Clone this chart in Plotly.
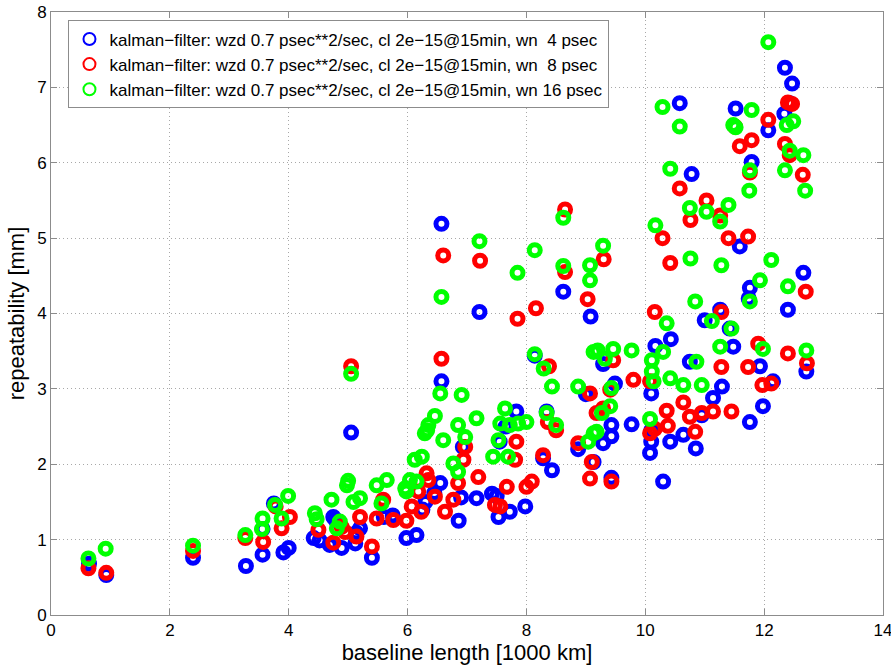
import plotly.graph_objects as go

blue_x = [0.64,0.93,2.39,3.28,3.56,3.56,3.75,3.91,4.0,4.42,4.52,4.69,4.75,4.79,4.89,5.05,5.12,5.14,5.2,5.4,5.6,5.75,5.98,6.15,6.25,6.3,6.45,6.57,6.57,6.55,6.86,6.9,6.93,7.16,7.21,7.42,7.5,7.53,7.55,7.65,7.72,7.83,7.98,8.14,8.28,8.34,8.43,8.62,8.87,9.0,9.08,9.13,9.29,9.29,9.43,9.43,9.43,9.49,9.77,10.08,10.1,10.1,10.1,10.17,10.3,10.42,10.43,10.58,10.64,10.75,10.78,10.85,10.95,11.0,11.14,11.26,11.29,11.42,11.48,11.52,11.59,11.74,11.76,11.76,11.79,11.93,11.98,12.07,12.15,12.34,12.35,12.4,12.43,12.47,12.66,12.71]
blue_y = [0.68,0.53,0.76,0.65,0.80,1.14,1.48,0.83,0.89,1.02,0.99,0.93,1.30,1.26,0.89,2.42,0.95,1.09,1.15,0.76,1.30,1.32,1.02,1.06,1.40,1.50,1.62,3.10,5.19,1.75,1.25,1.56,2.23,1.55,4.02,1.61,1.58,1.30,2.30,2.50,1.37,2.70,1.44,3.44,2.08,2.70,1.92,4.29,2.20,2.93,3.96,2.03,2.28,3.33,2.37,2.52,1.82,3.07,2.53,2.15,2.94,2.30,2.45,3.57,1.77,2.30,3.66,6.79,2.39,3.36,5.85,2.21,2.65,3.91,2.88,4.05,3.03,3.80,3.56,6.72,4.89,4.20,4.34,2.56,6.01,3.30,2.77,6.43,3.10,6.65,7.26,4.05,6.79,7.05,4.54,3.23]

red_x = [0.63,0.93,2.39,3.27,3.57,3.78,3.88,4.02,4.5,4.75,4.89,4.95,5.05,5.14,5.2,5.4,5.48,5.59,5.76,5.98,6.07,6.18,6.23,6.32,6.35,6.46,6.57,6.6,6.63,6.77,6.85,6.94,6.97,7.19,7.22,7.47,7.56,7.67,7.81,7.83,7.85,8.0,8.09,8.16,8.28,8.36,8.38,8.5,8.65,8.65,8.87,9.03,9.07,9.07,9.1,9.18,9.29,9.3,9.41,9.43,9.46,9.8,10.08,10.08,10.16,10.16,10.29,10.36,10.38,10.42,10.58,10.64,10.75,10.76,10.84,10.95,11.03,11.14,11.26,11.28,11.28,11.4,11.45,11.51,11.59,11.73,11.73,11.76,11.79,11.9,11.97,12.07,12.12,12.35,12.4,12.4,12.47,12.43,12.65,12.7,12.72]
red_y = [0.62,0.56,0.85,1.02,0.97,1.44,1.15,1.30,1.13,0.96,1.17,1.10,3.30,1.04,1.30,0.91,1.28,1.53,1.26,1.25,1.44,1.64,1.37,1.88,1.79,1.57,3.40,4.77,1.37,1.53,1.75,2.06,2.23,1.83,4.70,1.46,1.44,1.70,2.06,2.30,3.93,1.70,1.77,4.07,2.12,2.56,3.30,2.45,5.38,4.55,2.28,4.19,2.94,1.81,2.03,2.68,2.74,4.72,2.99,1.77,3.38,3.12,2.41,3.10,2.47,4.02,5.00,2.71,2.51,4.67,5.66,2.82,2.63,5.24,2.43,2.68,5.50,2.70,5.30,4.02,3.29,5.00,2.70,6.48,6.22,3.29,5.02,5.87,6.30,3.60,3.05,6.57,3.07,6.25,3.47,6.80,6.78,6.10,5.84,4.29,3.34]

green_x = [0.63,0.92,2.39,3.27,3.56,3.55,3.77,3.88,3.99,4.44,4.47,4.72,4.81,4.86,4.98,5.0,5.05,5.09,5.2,5.48,5.56,5.65,5.96,5.98,6.04,6.12,6.15,6.24,6.29,6.33,6.35,6.46,6.55,6.57,6.6,6.77,6.85,6.85,6.91,6.97,7.16,7.21,7.44,7.53,7.56,7.64,7.69,7.72,7.85,7.86,8.0,8.14,8.14,8.29,8.34,8.43,8.5,8.62,8.62,8.87,9.04,9.07,9.07,9.13,9.13,9.2,9.18,9.27,9.29,9.32,9.41,9.43,9.46,9.77,10.08,10.11,10.11,10.14,10.17,10.29,10.3,10.36,10.42,10.42,10.58,10.64,10.75,10.76,10.84,10.86,10.95,11.03,11.12,11.26,11.26,11.28,11.4,11.45,11.48,11.52,11.75,11.76,11.76,11.79,11.93,11.98,12.07,12.12,12.35,12.38,12.4,12.43,12.49,12.66,12.69,12.71]
green_y = [0.75,0.88,0.92,1.06,1.28,1.14,1.46,1.28,1.58,1.35,1.27,1.53,1.15,1.24,1.72,1.78,3.20,1.50,1.55,1.72,1.48,1.79,1.68,1.64,1.79,2.06,1.77,2.10,2.41,2.45,2.52,2.64,2.94,4.22,2.32,2.01,1.90,2.52,2.92,2.36,2.61,4.96,2.10,2.32,2.54,2.74,2.10,2.52,4.54,2.54,2.56,3.46,4.84,3.27,2.68,3.03,2.52,5.27,4.63,3.03,2.30,4.64,4.44,2.41,3.49,3.51,2.43,2.68,4.90,3.40,2.77,3.01,3.53,3.51,2.60,3.38,3.23,3.10,5.17,6.74,3.49,3.87,3.14,5.92,6.48,3.05,5.40,4.73,4.16,3.36,3.05,5.35,3.90,5.22,3.56,4.64,5.44,3.80,6.50,6.47,5.63,5.90,4.16,6.70,4.44,3.53,7.60,4.71,5.90,6.50,4.36,6.16,6.55,6.10,5.63,3.51]

series_names = [
    "kalman\u2212filter: wzd 0.7 psec**2/sec, cl 2e\u221215@15min, wn\u00a0 4 psec",
    "kalman\u2212filter: wzd 0.7 psec**2/sec, cl 2e\u221215@15min, wn\u00a0 8 psec",
    "kalman\u2212filter: wzd 0.7 psec**2/sec, cl 2e\u221215@15min, wn 16 psec",
]
series_colors = ["#0000ff", "#ff0000", "#00ff00"]
x_ticks = [0, 2, 4, 6, 8, 10, 12, 14]
y_ticks = [0, 1, 2, 3, 4, 5, 6, 7, 8]

fig = go.Figure()
for xs, ys, name, col in zip([blue_x, red_x, green_x], [blue_y, red_y, green_y], series_names, series_colors):
    fig.add_trace(go.Scatter(
        x=xs, y=ys, mode="markers", name=name,
        marker=dict(symbol="circle-open", size=11, color=col, line=dict(width=5, color=col)),
    ))

font = "Liberation Sans, Arial, Helvetica, sans-serif"
axis_common = dict(
    showgrid=True, gridcolor="#a8a8a8", griddash="1px,3px", gridwidth=1,
    zeroline=False, showline=True, linecolor="#8c8c8c", linewidth=1, mirror="ticks",
    ticks="inside", ticklen=6, tickcolor="#8c8c8c",
    tickfont=dict(family=font, size=17, color="#000"),
    automargin=False, ticklabeloverflow="allow",
)

fig.update_layout(
    width=891, height=668,
    margin=dict(l=51, r=8, t=12, b=53),
    paper_bgcolor="white", plot_bgcolor="white",
    font=dict(family=font, color="#000"),
    showlegend=True,
    legend=dict(
        x=0.021, y=0.986, xanchor="left", yanchor="top",
        bgcolor="white", bordercolor="#8c8c8c", borderwidth=1,
        font=dict(family=font, size=17, color="#000"),
        tracegroupgap=0, itemsizing="constant",
    ),
    xaxis=dict(range=[0, 14], tickvals=x_ticks, ticktext=[str(v) for v in x_ticks],
               title=dict(text="baseline length [1000 km]", font=dict(family=font, size=22), standoff=2),
               **axis_common),
    yaxis=dict(range=[0, 8], tickvals=y_ticks, ticktext=[str(v) for v in y_ticks],
               title=dict(text="repeatability [mm]", font=dict(family=font, size=22), standoff=6),
               **axis_common),
)

fig.write_html(
    "out.html",
    config={"displayModeBar": False},
    post_script="document.body.style.margin='0';document.body.style.padding='0';document.body.style.overflow='hidden';",
)
